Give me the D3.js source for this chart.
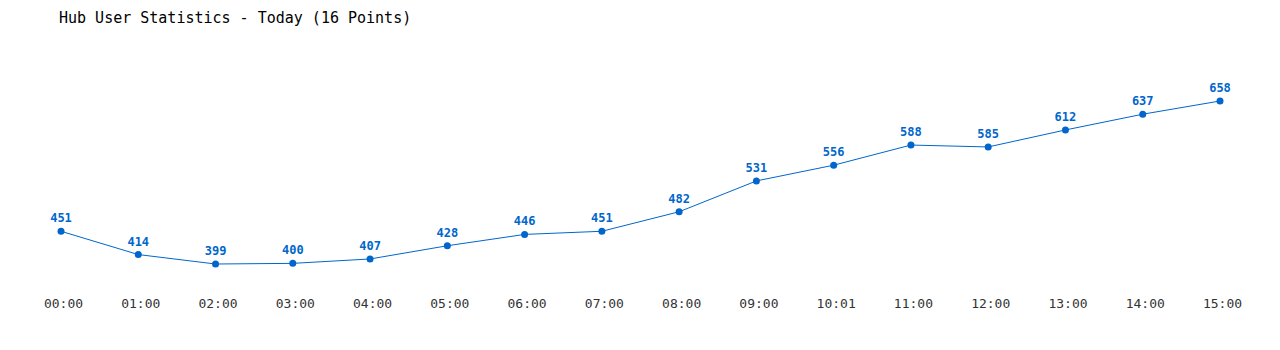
<!DOCTYPE html>
<html>
<head>
<meta charset="utf-8">
<script src="https://cdnjs.cloudflare.com/ajax/libs/d3/7.8.5/d3.min.js"></script>
<style>
    html, body { margin: 0; padding: 0; background: #fff; }
    svg { display: block; }
    text { font-family: "DejaVu Sans Mono", "Liberation Mono", monospace; }
</style>
</head>
<body>
<div id="chart"></div>
<script>
;(function () {

    // Data.
    var hours  = ['00:00', '01:00', '02:00', '03:00', '04:00', '05:00', '06:00', '07:00',
                  '08:00', '09:00', '10:01', '11:00', '12:00', '13:00', '14:00', '15:00'];
    var users  = [451, 414, 399, 400, 407, 428, 446, 451, 482, 531, 556, 588, 585, 612, 637, 658];
    var title  = 'Hub User Statistics - Today (16 Points)';

    var width = 1280, height = 350;
    var blue = '#0066cc';

    var svg = d3.select('#chart').append('svg')
        .attr('width', width)
        .attr('height', height);

    svg.append('text')
        .attr('x', 59)
        .attr('y', 23)
        .attr('font-size', '15px')
        .attr('fill', '#000')
        .text(title);

    var x = d3.scalePoint()
        .domain(hours)
        .range([61, 1220]);

    var y = d3.scaleLinear()
        .domain(d3.extent(users))
        .range([264, 101]);

    var data = hours.map(function (h, i) { return { h: h, v: users[i] }; });

    // Hour labels along the bottom, no axis line.
    var axis = d3.axisBottom(x).tickSize(0).tickPadding(0);
    var g = svg.append('g')
        .attr('transform', 'translate(0,308)')
        .call(axis);
    g.select('.domain').remove();
    g.selectAll('text')
        .attr('dy', '0')
        .attr('y', 0)
        .attr('x', 2)
        .attr('font-size', '13px')
        .attr('font-family', '"DejaVu Sans Mono", monospace')
        .attr('fill', '#333');

    var line = d3.line()
        .x(function (d) { return x(d.h); })
        .y(function (d) { return y(d.v); });

    svg.append('path')
        .datum(data)
        .attr('d', line)
        .attr('fill', 'none')
        .attr('stroke', blue)
        .attr('stroke-width', 1);

    svg.selectAll('circle.pt')
        .data(data)
        .enter()
        .append('circle')
        .attr('class', 'pt')
        .attr('cx', function (d) { return x(d.h); })
        .attr('cy', function (d) { return y(d.v); })
        .attr('r', 3.5)
        .attr('fill', blue);

    svg.selectAll('text.val')
        .data(data)
        .enter()
        .append('text')
        .attr('class', 'val')
        .attr('x', function (d) { return x(d.h); })
        .attr('y', function (d) { return y(d.v) - 9; })
        .attr('text-anchor', 'middle')
        .attr('font-size', '12px')
        .attr('font-weight', 'bold')
        .attr('fill', blue)
        .text(function (d) { return d.v; });

})();
</script>
</body>
</html>
